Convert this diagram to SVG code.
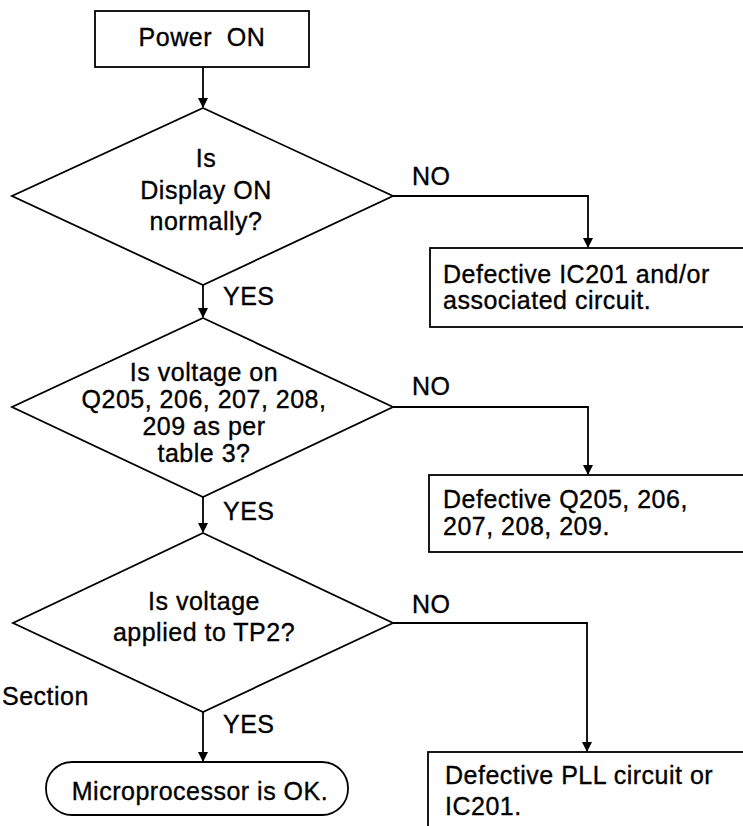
<svg xmlns="http://www.w3.org/2000/svg" width="743" height="826" viewBox="0 0 743 826">
<defs>
<style>
text{font-family:"Liberation Sans",Arial,sans-serif;font-size:25px;letter-spacing:0.5px;fill:#000;stroke:#000;stroke-width:0.35}
.c{text-anchor:middle}
.s{fill:#fff;stroke:#000;stroke-width:1.8}
.l{fill:none;stroke:#000;stroke-width:1.8}
</style>
<marker id="ah" viewBox="0 0 10 12" refX="9" refY="6" markerWidth="10" markerHeight="12" markerUnits="userSpaceOnUse" orient="auto">
<path d="M0,1 L10,6 L0,11 Z" fill="#000"/>
</marker>
</defs>
<rect width="743" height="826" fill="#fff"/>
<g id="connectors">
<path class="l" d="M203,67 V107" marker-end="url(#ah)"/>
<path class="l" d="M393,196 H588 V247" marker-end="url(#ah)"/>
<path class="l" d="M203,285 V317" marker-end="url(#ah)"/>
<path class="l" d="M393,407 H588 V474" marker-end="url(#ah)"/>
<path class="l" d="M203,497 V532" marker-end="url(#ah)"/>
<path class="l" d="M393,623 H587 V751" marker-end="url(#ah)"/>
<path class="l" d="M203,712 V761" marker-end="url(#ah)"/>
<text x="412" y="185">NO</text>
<text x="223" y="305">YES</text>
<text x="412" y="395">NO</text>
<text x="223" y="520">YES</text>
<text x="412" y="613">NO</text>
<text x="223" y="733">YES</text>
</g>
<g id="power-on">
<rect class="s" x="95" y="11" width="214" height="56"/>
<text class="c" x="202" y="46" xml:space="preserve">Power  ON</text>
</g>
<g id="display-check">
<polygon class="s" points="203,108 393,196 203,285 12,196"/>
<text class="c" x="206" y="167">Is</text>
<text class="c" x="206" y="199">Display ON</text>
<text class="c" x="206" y="230">normally?</text>
</g>
<g id="defect-ic201">
<rect class="s" x="430" y="248" width="330" height="79"/>
<text x="443" y="283">Defective IC201 and/or</text>
<text x="443" y="309">associated circuit.</text>
</g>
<g id="voltage-check">
<polygon class="s" points="203,318 393,407 203,497 12,407"/>
<text class="c" x="204" y="381">Is voltage on</text>
<text class="c" x="204" y="408">Q205, 206, 207, 208,</text>
<text class="c" x="204" y="435">209 as per</text>
<text class="c" x="204" y="462">table 3?</text>
</g>
<g id="defect-q205">
<rect class="s" x="429" y="475" width="330" height="77"/>
<text x="443" y="508">Defective Q205, 206,</text>
<text x="443" y="535">207, 208, 209.</text>
</g>
<g id="tp2-check">
<polygon class="s" points="203,533 393,623 203,712 13,623"/>
<text class="c" x="204" y="610">Is voltage</text>
<text class="c" x="204" y="641">applied to TP2?</text>
</g>
<g id="section-label">
<text x="2" y="705">Section</text>
</g>
<g id="micro-ok">
<rect class="s" x="46" y="762" width="302" height="53" rx="26" ry="26"/>
<text class="c" x="200" y="800">Microprocessor is OK.</text>
</g>
<g id="defect-pll">
<rect class="s" x="428" y="752" width="340" height="100"/>
<text x="445" y="784">Defective PLL circuit or</text>
<text x="445" y="815">IC201.</text>
</g>
</svg>
